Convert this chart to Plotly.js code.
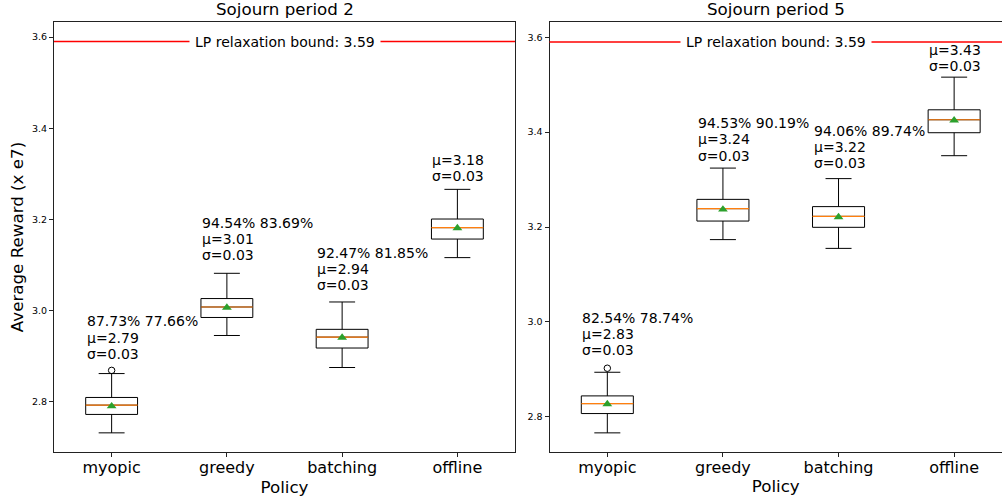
<!DOCTYPE html>
<html>
<head>
<meta charset="utf-8">
<script src="https://cdn.plot.ly/plotly-3.0.1.min.js"></script>
<style>html,body{margin:0;padding:0;background:#fff;}#chart{width:1002px;height:501px;}</style>
</head>
<body>
<div id="chart"></div>
<script>
// ---------- data ----------
const policies = ['myopic', 'greedy', 'batching', 'offline'];
const lpBound = 3.59;

// Sojourn period 2
const p2Lower  = [2.732, 2.9455, 2.8753, 3.1163];
const p2Q1     = [2.7724, 2.985, 2.918, 3.157];
const p2Median = [2.7928, 3.008, 2.942, 3.182];
const p2Q3     = [2.8096, 3.0265, 2.959, 3.2009];
const p2Upper  = [2.862, 3.0819, 3.019, 3.266];
const p2Mean   = [2.7906, 3.0068, 2.941, 3.181];
const p2OutX   = ['myopic'];
const p2OutY   = [2.869];
const p2Pct    = ['87.73% 77.66%', '94.54% 83.69%', '92.47% 81.85%', ''];
const p2Mu     = ['2.79', '3.01', '2.94', '3.18'];
const p2Sigma  = ['0.03', '0.03', '0.03', '0.03'];

// Sojourn period 5
const p5Lower  = [2.7663, 3.1735, 3.155, 3.3503];
const p5Q1     = [2.807, 3.2126, 3.1994, 3.3987];
const p5Median = [2.828, 3.2387, 3.2225, 3.426];
const p5Q3     = [2.8442, 3.2583, 3.243, 3.447];
const p5Upper  = [2.894, 3.3242, 3.302, 3.5158];
const p5Mean   = [2.827, 3.237, 3.221, 3.425];
const p5OutX   = ['myopic'];
const p5OutY   = [2.9025];
const p5Pct    = ['82.54% 78.74%', '94.53% 90.19%', '94.06% 89.74%', ''];
const p5Mu     = ['2.83', '3.24', '3.22', '3.43'];
const p5Sigma  = ['0.03', '0.03', '0.03', '0.03'];

// ---------- styling ----------
const FONT = 'DejaVu Sans, Verdana, sans-serif';
const BOXW = 0.45;
const ORANGE = '#ff7f0e', GREEN = '#2ca02c';
const LINE_H = 16.3;

function panel(xa, ya, lower, q1, med, q3, upper, mean, outX, outY) {
  return [
    {type: 'box', x: policies, q1: q1, median: med, q3: q3, lowerfence: lower, upperfence: upper,
     xaxis: xa, yaxis: ya, width: BOXW, whiskerwidth: 0.5, fillcolor: 'rgba(255,255,255,0)',
     line: {color: '#000', width: 1}, boxpoints: false, showlegend: false, hoverinfo: 'skip'},
    {type: 'box', x: policies, q1: med, median: med, q3: med, lowerfence: med, upperfence: med,
     xaxis: xa, yaxis: ya, width: BOXW, whiskerwidth: 0, fillcolor: 'rgba(0,0,0,0)',
     line: {color: ORANGE, width: 1.2}, boxpoints: false, showlegend: false, hoverinfo: 'skip'},
    {type: 'scatter', mode: 'markers', x: policies, y: mean, xaxis: xa, yaxis: ya,
     marker: {symbol: 'triangle-up', size: 8.5, color: GREEN}, showlegend: false, hoverinfo: 'skip'},
    {type: 'scatter', mode: 'markers', x: outX, y: outY, xaxis: xa, yaxis: ya,
     marker: {symbol: 'circle-open', size: 6.5, color: '#000', line: {width: 1}}, showlegend: false, hoverinfo: 'skip'}
  ];
}

const data = [].concat(
  panel('x', 'y', p2Lower, p2Q1, p2Median, p2Q3, p2Upper, p2Mean, p2OutX, p2OutY),
  panel('x2', 'y2', p5Lower, p5Q1, p5Median, p5Q3, p5Upper, p5Mean, p5OutX, p5OutY)
);

function statAnnots(xr, yr, pct, mu, sigma, mean) {
  const out = [];
  policies.forEach((p, i) => {
    const lines = [];
    if (pct[i]) lines.push(pct[i]);
    lines.push('μ=' + mu[i]);
    lines.push('σ=' + sigma[i]);
    const n = lines.length;
    lines.forEach((txt, k) => {
      out.push({xref: xr, yref: yr, x: i - BOXW / 2, y: mean[i] + 0.1, yshift: (n - 1 - k) * LINE_H - 2.5,
                text: txt, showarrow: false, xanchor: 'left', yanchor: 'bottom', align: 'left',
                font: {family: FONT, size: 14, color: '#000'}, borderpad: 0});
    });
  });
  return out;
}

function lpAnnot(xr, yr) {
  return {xref: xr + ' domain', yref: yr, x: 0.5, y: lpBound, text: 'LP relaxation bound: ' + lpBound.toFixed(2),
          showarrow: false, xanchor: 'center', yanchor: 'middle', bgcolor: '#fff', borderpad: 5,
          font: {family: FONT, size: 14, color: '#000'}};
}
function titleAnnot(xr, txt) {
  return {xref: xr + ' domain', yref: 'paper', x: 0.5, y: 1, yshift: 12.8, text: txt, showarrow: false,
          xanchor: 'center', yanchor: 'middle', font: {family: FONT, size: 16.7, color: '#000'}};
}

const baseX = {
  type: 'category', showgrid: false, zeroline: false, showline: true, linecolor: '#222', linewidth: 1,
  ticks: 'outside', ticklen: 4, tickwidth: 1, tickcolor: '#222', ticklabelstandoff: -3,
  tickfont: {family: FONT, size: 16, color: '#000'},
  title: {text: 'Policy', font: {family: FONT, size: 16.7, color: '#000'}, standoff: 4}
};
const baseY = {
  showgrid: false, zeroline: false, showline: true, linecolor: '#222', linewidth: 1,
  ticks: 'outside', ticklen: 4, tickwidth: 1, tickcolor: '#222',
  tickmode: 'array', tickvals: [2.8, 3.0, 3.2, 3.4, 3.6], ticktext: ['2.8', '3.0', '3.2', '3.4', '3.6'],
  tickfont: {family: FONT, size: 9.5, color: '#000'}
};

const layout = {
  width: 1002, height: 501,
  margin: {l: 54, r: 0, t: 22, b: 49},
  paper_bgcolor: '#fff', plot_bgcolor: '#fff',
  boxmode: 'overlay',
  font: {family: FONT},
  xaxis: Object.assign({}, baseX, {domain: [0, 0.4863], range: [-0.5, 3.5], mirror: true, anchor: 'y'}),
  yaxis: Object.assign({}, baseY, {domain: [0, 1], range: [2.690, 3.633], mirror: true, anchor: 'x',
    title: {text: 'Average Reward (x e7)', font: {family: FONT, size: 16.7, color: '#000'}, standoff: 4}}),
  xaxis2: Object.assign({}, baseX, {domain: [0.5227, 1], range: [-0.5, 3.414], mirror: true, anchor: 'y2'}),
  yaxis2: Object.assign({}, baseY, {domain: [0, 1], range: [2.726, 3.632], mirror: false, anchor: 'x2'}),
  shapes: [
    {type: 'line', xref: 'x domain', yref: 'y', x0: 0, x1: 1, y0: lpBound, y1: lpBound, line: {color: '#ff0000', width: 1.5}},
    {type: 'line', xref: 'x2 domain', yref: 'y2', x0: 0, x1: 1, y0: lpBound, y1: lpBound, line: {color: '#ff0000', width: 1.5}}
  ],
  annotations: [].concat(
    statAnnots('x', 'y', p2Pct, p2Mu, p2Sigma, p2Mean),
    statAnnots('x2', 'y2', p5Pct, p5Mu, p5Sigma, p5Mean),
    [lpAnnot('x', 'y'), lpAnnot('x2', 'y2'), titleAnnot('x', 'Sojourn period 2'), titleAnnot('x2', 'Sojourn period 5')]
  )
};

Plotly.newPlot('chart', data, layout, {displayModeBar: false, staticPlot: true});
</script>
</body>
</html>
